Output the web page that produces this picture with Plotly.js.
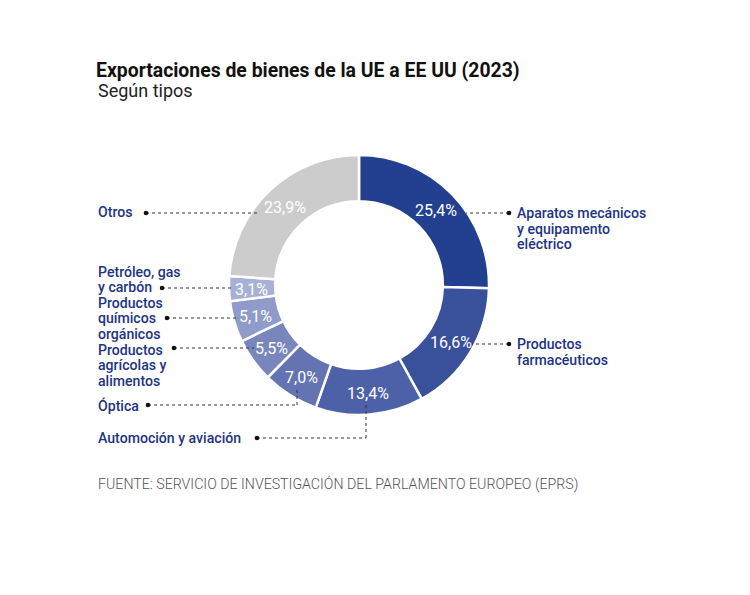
<!DOCTYPE html>
<html>
<head>
<meta charset="utf-8">
<script src="https://cdn.plot.ly/plotly-3.0.1.min.js"></script>
<style>html,body{margin:0;padding:0;background:#fff;}#chart{width:750px;height:595px;}</style>
</head>
<body>
<div id="chart"></div>
<script>
// ---- data ----
const categories = ['Aparatos mecánicos<br>y equipamento<br>eléctrico', 'Productos<br>farmacéuticos', 'Automoción y aviación', 'Óptica', 'Productos<br>agrícolas y<br>alimentos', 'Productos<br>químicos<br>orgánicos', 'Petróleo, gas<br>y carbón', 'Otros'];
const values = [25.4, 16.6, 13.4, 7.0, 5.5, 5.1, 3.1, 23.9];
const pctLabels = ['25,4%', '16,6%', '13,4%', '7,0%', '5,5%', '5,1%', '3,1%', '23,9%'];
const sliceColors = ['#22408f', '#39519b', '#4c61a7', '#6473b1', '#7886bc', '#8f9bc8', '#a8b1d5', '#cccccc'];

// ---- layout (pixel coordinates) ----
const W = 750, H = 595;
const pie = {x0: 229, x1: 489, y0: 154, y1: 416, hole: 0.645};
const labelCol = '#1e3582';
const labelLayout = [
  {x: 515, y: 213, dot: [509, 213], path: [[509, 213], [466, 213]]},
  {x: 515, y: 344, dot: [509, 344], path: [[509, 344], [472, 344]]},
  {x: 96, y: 438, dot: [257, 438], path: [[257, 438], [366, 438], [366, 404]]},
  {x: 96, y: 405, dot: [148, 405], path: [[148, 405], [297, 405], [297, 388]]},
  {x: 96, y: 349.6, dot: [174, 348], path: [[174, 348], [254, 348]]},
  {x: 96, y: 302.8, dot: [167, 318], path: [[167, 318], [238, 318]]},
  {x: 96, y: 271.6, dot: [162, 288], path: [[162, 288], [232, 288]]},
  {x: 96, y: 212, dot: [146, 213], path: [[146, 213], [258, 213]]}
];
const lineStep = 15.6;
const font = 'Roboto, Arial, sans-serif';

const shapes = [];
const annotations = [];
categories.forEach((c, i) => {
  const L = labelLayout[i];
  c.split('<br>').forEach((line, k) => {
    annotations.push({
      xref: 'x', yref: 'y', x: L.x, y: L.y + k * lineStep,
      text: line, showarrow: false, xanchor: 'left', yanchor: 'middle',
      font: {family: font, size: 14.1, color: labelCol, weight: 500}
    });
  });
  const p = L.path;
  for (let j = 0; j < p.length - 1; j++) {
    shapes.push({type: 'line', xref: 'x', yref: 'y', x0: p[j][0], y0: p[j][1], x1: p[j+1][0], y1: p[j+1][1],
      line: {color: '#333', width: 1, dash: 'dot'}});
  }
  shapes.push({type: 'circle', xref: 'x', yref: 'y', x0: L.dot[0] - 2.3, x1: L.dot[0] + 2.3, y0: L.dot[1] - 2.3, y1: L.dot[1] + 2.3,
    fillcolor: '#111', line: {width: 0}});
});

// percentage labels at the middle of each ring segment (angles derived from the values)
const total = values.reduce((a, b) => a + b, 0);
const cx = (pie.x0 + pie.x1) / 2, cy = (pie.y0 + pie.y1) / 2;
const R = Math.min(pie.x1 - pie.x0, pie.y1 - pie.y0) / 2;
const rMid = R * (1 + pie.hole) / 2 + 1;
let cum = 0;
values.forEach((v, i) => {
  const th = 2 * Math.PI * (cum + v / 2) / total;
  cum += v;
  annotations.push({
    xref: 'x', yref: 'y', x: cx + rMid * Math.sin(th), y: cy - rMid * Math.cos(th) + 1,
    text: pctLabels[i], showarrow: false, xanchor: 'center', yanchor: 'middle',
    font: {family: font, size: 16, color: '#ffffff', weight: 400}
  });
});

annotations.push({
  xref: 'x', yref: 'y', x: 96, y: 90, text: 'Según tipos', showarrow: false,
  xanchor: 'left', yanchor: 'middle', font: {family: font, size: 18, color: '#222', weight: 400}
});
annotations.push({
  xref: 'x', yref: 'y', x: 96, y: 484, text: 'FUENTE: SERVICIO DE INVESTIGACIÓN DEL PARLAMENTO EUROPEO (EPRS)', showarrow: false,
  xanchor: 'left', yanchor: 'middle', font: {family: font, size: 14.2, color: '#555', weight: 300}
});

const trace = {
  type: 'pie',
  values: values,
  labels: categories,
  textinfo: 'none',
  hole: pie.hole,
  sort: false,
  direction: 'clockwise',
  rotation: 0,
  marker: {colors: sliceColors, line: {color: '#ffffff', width: 2.5}},
  domain: {x: [pie.x0 / W, pie.x1 / W], y: [1 - pie.y1 / H, 1 - pie.y0 / H]},
  hoverinfo: 'none',
  showlegend: false
};

const layout = {
  width: W, height: H,
  margin: {l: 0, r: 0, t: 0, b: 0},
  paper_bgcolor: '#ffffff', plot_bgcolor: 'rgba(0,0,0,0)',
  title: {
    text: '<b>Exportaciones de bienes de la UE a EE UU (2023)</b>',
    x: 96 / W, xanchor: 'left', xref: 'paper', yref: 'container', y: 1 - 70 / H, yanchor: 'middle',
    font: {family: font, size: 19.4, color: '#111'}
  },
  xaxis: {range: [0, W], visible: false, fixedrange: true},
  yaxis: {range: [H, 0], visible: false, fixedrange: true},
  shapes: shapes,
  annotations: annotations,
  showlegend: false
};

Plotly.newPlot('chart', [trace], layout, {displayModeBar: false, staticPlot: true});
</script>
</body>
</html>
